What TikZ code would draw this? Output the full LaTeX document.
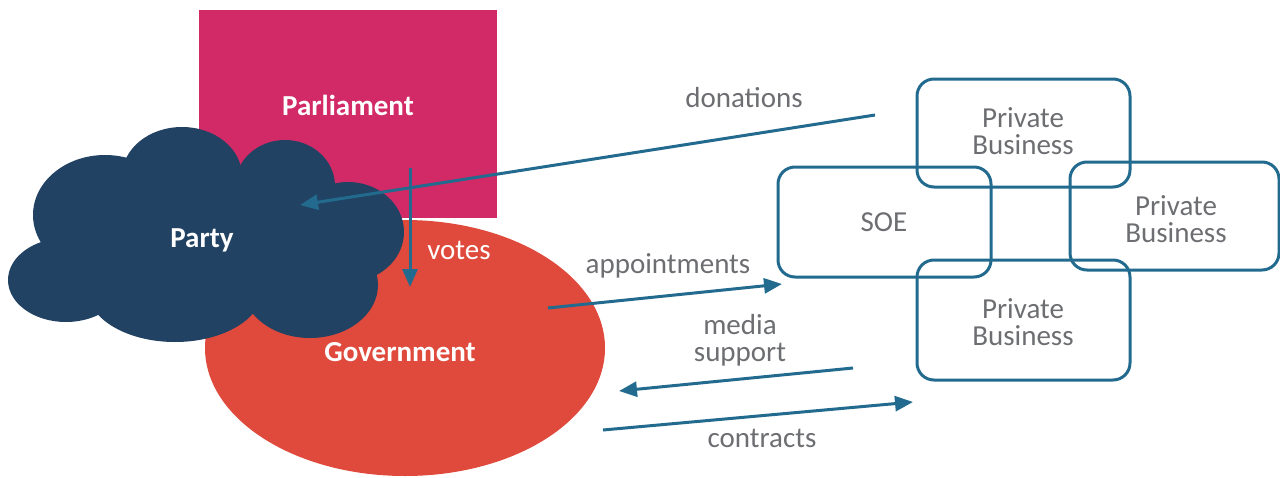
\documentclass[tikz,border=0pt]{standalone}
\usepackage{fontspec}
\setmainfont{Carlito}
\usetikzlibrary{arrows.meta}
\definecolor{parl}{HTML}{D22A66}
\definecolor{gov}{HTML}{DF4A3C}
\definecolor{party}{HTML}{214262}
\definecolor{arr}{HTML}{236A8F}
\definecolor{txt}{HTML}{6D6E71}
\tikzset{
  lbl/.style={text=txt, font=\fontsize{29}{27}\selectfont, align=center, inner sep=0pt},
  wlbl/.style={text=white, font=\fontsize{29}{27}\selectfont\bfseries, inner sep=0pt},
  bizbox/.style={draw=arr, line width=3pt, rounded corners=17pt, fill=none},
  conn/.style={draw=arr, line width=3pt, -{Triangle[length=18pt,width=15pt]}},
}
\begin{document}
\begin{tikzpicture}[x=1pt,y=-1pt]
\useasboundingbox (0,0) rectangle (1280,477);
% Parliament
\fill[parl] (199,10) rectangle (497,218);
\node[wlbl] (parliament) at (348,105) {Parliament};
% Government
\fill[gov] (405,348) ellipse [x radius=200, y radius=128];
\node[wlbl] (government) at (400,352) {Government};
% Party cloud
\begin{scope}[party]
\fill (105,215) ellipse [x radius=72, y radius=60];
\fill (182,176) ellipse [x radius=60, y radius=49];
\fill (285,186) ellipse [x radius=50, y radius=46];
\fill (348,232) ellipse [x radius=56, y radius=50];
\fill (310,285) ellipse [x radius=68, y radius=53];
\fill (175,289) ellipse [x radius=88, y radius=53];
\fill (66,280) ellipse [x radius=58, y radius=42];
\fill (215,240) ellipse [x radius=150, y radius=72];
\end{scope}
\node[wlbl] (party) at (202,240) {Party};
% Boxes
\draw[bizbox] (917,79) rectangle (1130,187);
\node[lbl] (pb1) at (1023,131) {Private\\Business};
\draw[bizbox] (778,167) rectangle (991,277);
\node[lbl] (soe) at (884,222) {SOE};
\draw[bizbox] (1070,162) rectangle (1279,270);
\node[lbl] (pb2) at (1176,219) {Private\\Business};
\draw[bizbox] (917,260) rectangle (1130,380);
\node[lbl] (pb3) at (1023,322) {Private\\Business};
% arrow endpoints
\coordinate (donS) at (875,115);
\coordinate (donE) at (300,205);
\coordinate (votS) at (410,168);
\coordinate (votE) at (410,287);
\coordinate (appS) at (548,308);
\coordinate (appE) at (782,284);
\coordinate (medS) at (853,368);
\coordinate (medE) at (619,391);
\coordinate (conS) at (603,430);
\coordinate (conE) at (913,402);
\draw[conn] (donS) -- (donE);
\draw[conn] (votS) -- (votE);
\draw[conn] (appS) -- (appE);
\draw[conn] (medS) -- (medE);
\draw[conn] (conS) -- (conE);
% labels
\node[lbl] (donations) at (744,98) {donations};
\node[lbl, text=white] (votes) at (459,250) {votes};
\node[lbl] (appointments) at (668,266) {appointments};
\node[lbl] (media) at (740,340) {media\\support};
\node[lbl] (contracts) at (762,438) {contracts};
\end{tikzpicture}
\end{document}
